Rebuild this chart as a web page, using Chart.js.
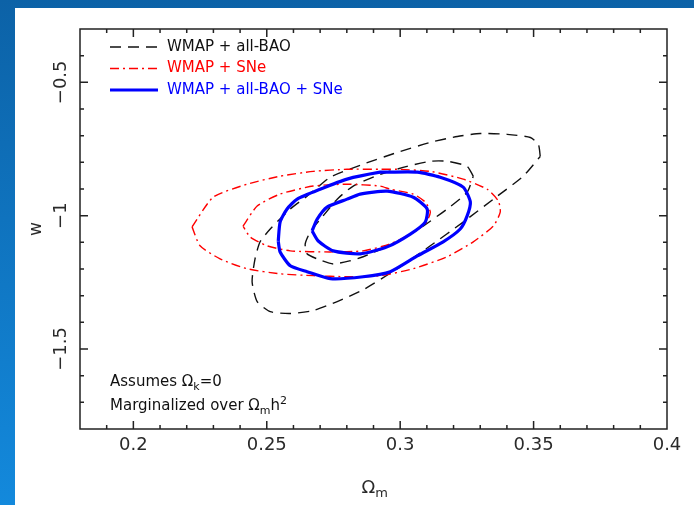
<!DOCTYPE html>
<html>
<head>
<meta charset="utf-8">
<script src="https://cdn.jsdelivr.net/npm/chart.js@4"></script>
<style>
  html, body { margin: 0; padding: 0; }
  body { width: 694px; height: 505px; overflow: hidden; position: relative;
         background: linear-gradient(to bottom, #0c62a7, #1389dc); }
  #panel { position: absolute; left: 15px; top: 8px; right: 0; bottom: 0; background: #fff; }
  #wrap { position: absolute; left: 0; top: 0; width: 694px; height: 505px; }
</style>
</head>
<body>
<div id="panel"></div>
<div id="wrap"><canvas id="c" width="694" height="505"></canvas></div>
<script>
// contours: Omega_m (x) and w (y)
const baoOuterOm = [0.3525, 0.3518, 0.3488, 0.3401, 0.330, 0.3214, 0.3113, 0.2989, 0.2861, 0.2738, 0.2651, 0.2588, 0.2513, 0.2475, 0.2456, 0.2445, 0.2464, 0.2513, 0.2588, 0.2674, 0.2764, 0.2861, 0.2989, 0.3113, 0.3236, 0.3364, 0.3461];
const baoOuterW = [-0.778, -0.733, -0.707, -0.695, -0.692, -0.703, -0.725, -0.763, -0.807, -0.856, -0.927, -0.975, -1.050, -1.098, -1.162, -1.248, -1.322, -1.360, -1.367, -1.356, -1.322, -1.278, -1.199, -1.113, -1.024, -0.927, -0.852];
const baoInnerOm = [0.3274, 0.3251, 0.3176, 0.3113, 0.3026, 0.2925, 0.2824, 0.2764, 0.2711, 0.2663, 0.2644, 0.2651, 0.2689, 0.2749, 0.2813, 0.2861, 0.2989, 0.3086, 0.3176, 0.3251];
const baoInnerW = [-0.852, -0.815, -0.796, -0.796, -0.815, -0.845, -0.889, -0.938, -1.001, -1.061, -1.106, -1.143, -1.162, -1.181, -1.169, -1.154, -1.098, -1.039, -0.975, -0.912];

const sneOuterOm = [0.222, 0.2299, 0.2426, 0.255, 0.2674, 0.2801, 0.2925, 0.2989, 0.3113, 0.3236, 0.3326, 0.3368, 0.3375, 0.3349, 0.3274, 0.3176, 0.3049, 0.2925, 0.2801, 0.2674, 0.255, 0.2426, 0.2325, 0.225];
const sneOuterW = [-1.042, -0.931, -0.882, -0.852, -0.834, -0.826, -0.826, -0.826, -0.834, -0.863, -0.901, -0.945, -0.987, -1.039, -1.098, -1.154, -1.199, -1.225, -1.229, -1.225, -1.218, -1.199, -1.162, -1.113];
const sneInnerOm = [0.2411, 0.2464, 0.255, 0.2674, 0.2801, 0.2925, 0.2963, 0.3049, 0.3094, 0.3113, 0.3094, 0.3038, 0.2963, 0.2861, 0.2738, 0.2588, 0.2501, 0.2438];
const sneInnerW = [-1.039, -0.964, -0.919, -0.889, -0.882, -0.889, -0.901, -0.919, -0.949, -0.987, -1.031, -1.069, -1.106, -1.132, -1.136, -1.132, -1.113, -1.080];

const allOuterOm = [0.2543, 0.255, 0.2576, 0.2614, 0.270, 0.2801, 0.2925, 0.2951, 0.3064, 0.315, 0.3236, 0.3263, 0.3251, 0.3225, 0.3161, 0.3064, 0.2963, 0.2861, 0.2738, 0.2651, 0.2588, 0.255];
const allOuterW = [-1.095, -1.024, -0.975, -0.938, -0.901, -0.863, -0.837, -0.837, -0.837, -0.856, -0.893, -0.949, -1.001, -1.050, -1.098, -1.151, -1.210, -1.229, -1.236, -1.210, -1.188, -1.136];
const allInnerOm = [0.267, 0.2689, 0.2726, 0.2801, 0.285, 0.2951, 0.3049, 0.3101, 0.3094, 0.3038, 0.2951, 0.285, 0.2749, 0.2693];
const allInnerW = [-1.057, -1.013, -0.968, -0.938, -0.919, -0.908, -0.931, -0.975, -1.024, -1.069, -1.117, -1.143, -1.132, -1.095];

const xTicks = [0.2, 0.25, 0.3, 0.35, 0.4];
const yTicks = [-1.5, -1, -0.5];
const legendLabels = ["WMAP + all-BAO", "WMAP + SNe", "WMAP + all-BAO + SNe"];

const styles = [
  { color: "#111111", width: 1.4, dash: [11, 7] },
  { color: "#ff0000", width: 1.4, dash: [9, 4, 2, 4] },
  { color: "#0000ff", width: 3.2, dash: [] },
];

function loop(xs, ys) {
  const pts = xs.map((x, i) => ({ x: x, y: ys[i] }));
  pts.push(pts[0]);
  return pts;
}

function contour(label, xs, ys, st, order) {
  return {
    label: label,
    data: loop(xs, ys),
    showLine: true,
    borderColor: st.color,
    borderWidth: st.width,
    borderDash: st.dash,
    pointRadius: 0,
    tension: 0.2,
    fill: false,
    order: order,
  };
}

const F = '"DejaVu Sans", sans-serif';

// text with sub/superscripts: parts = [[text, shift]] shift 0 normal, 1 sub, -1 sup
function rich(ctx, parts, x, y, size) {
  let cx = x;
  parts.forEach(([t, s]) => {
    const sz = s === 0 ? size : Math.round(size * 0.7);
    ctx.font = sz + "px " + F;
    ctx.fillText(t, cx, y + (s === 1 ? 4 : s === -1 ? -6 : 0));
    cx += ctx.measureText(t).width;
  });
  return cx - x;
}

const frame = {
  id: "frame",
  afterDraw(chart) {
    const ctx = chart.ctx;
    const a = chart.chartArea;
    const sx = chart.scales.x;
    const sy = chart.scales.y;
    ctx.save();
    ctx.strokeStyle = "#222";
    ctx.lineWidth = 1.5;
    ctx.setLineDash([]);
    ctx.strokeRect(a.left, a.top, a.right - a.left, a.bottom - a.top);

    // inside ticks on all sides
    ctx.beginPath();
    for (let i = 19; i <= 39; i++) {
      const px = sx.getPixelForValue(i / 100);
      const len = i % 5 === 0 ? 8 : 4;
      ctx.moveTo(px, a.bottom); ctx.lineTo(px, a.bottom - len);
      ctx.moveTo(px, a.top); ctx.lineTo(px, a.top + len);
    }
    for (let i = -17; i <= -4; i++) {
      const py = sy.getPixelForValue(i / 10);
      const len = i % 5 === 0 ? 8 : 4;
      ctx.moveTo(a.left, py); ctx.lineTo(a.left + len, py);
      ctx.moveTo(a.right, py); ctx.lineTo(a.right - len, py);
    }
    ctx.stroke();

    // tick labels
    ctx.fillStyle = "#2a2a2a";
    ctx.font = "18px " + F;
    ctx.textAlign = "center";
    ctx.textBaseline = "middle";
    xTicks.forEach(v => {
      ctx.fillText(String(v), sx.getPixelForValue(v), a.bottom + 16);
    });
    yTicks.forEach(v => {
      ctx.save();
      ctx.translate(a.left - 19, sy.getPixelForValue(v));
      ctx.rotate(-Math.PI / 2);
      ctx.fillText("\u2212" + Math.abs(v), 0, 0);
      ctx.restore();
    });

    // axis titles
    ctx.save();
    ctx.translate(a.left - 43, (a.top + a.bottom) / 2);
    ctx.rotate(-Math.PI / 2);
    ctx.font = "17px " + F;
    ctx.fillText("w", 0, 0);
    ctx.restore();

    ctx.textAlign = "left";
    ctx.textBaseline = "alphabetic";
    const cx = (a.left + a.right) / 2;
    rich(ctx, [["\u03A9", 0], ["m", 1]], cx - 12, a.bottom + 64, 18);

    // legend
    const lx = a.left + 30;
    legendLabels.forEach((lab, i) => {
      const st = styles[i];
      const y = a.top + 18 + i * 21.5;
      ctx.strokeStyle = st.color;
      ctx.lineWidth = st.width;
      ctx.setLineDash(st.dash);
      ctx.beginPath();
      ctx.moveTo(lx, y); ctx.lineTo(lx + 48, y);
      ctx.stroke();
      ctx.setLineDash([]);
      ctx.fillStyle = st.color === "#111111" ? "#111" : st.color;
      ctx.font = "15px " + F;
      ctx.textBaseline = "middle";
      ctx.fillText(lab, lx + 57, y);
    });

    // notes
    ctx.fillStyle = "#111";
    ctx.textBaseline = "alphabetic";
    rich(ctx, [["Assumes \u03A9", 0], ["k", 1], ["=0", 0]], a.left + 30, a.bottom - 43, 15);
    rich(ctx, [["Marginalized over \u03A9", 0], ["m", 1], ["h", 0], ["2", -1]], a.left + 30, a.bottom - 19, 15);
    ctx.restore();
  },
};

new Chart(document.getElementById("c"), {
  type: "scatter",
  data: {
    datasets: [
      contour("WMAP + all-BAO", baoOuterOm, baoOuterW, styles[0], 3),
      contour("WMAP + all-BAO", baoInnerOm, baoInnerW, styles[0], 3),
      contour("WMAP + SNe", sneOuterOm, sneOuterW, styles[1], 2),
      contour("WMAP + SNe", sneInnerOm, sneInnerW, styles[1], 2),
      contour("WMAP + all-BAO + SNe", allOuterOm, allOuterW, styles[2], 1),
      contour("WMAP + all-BAO + SNe", allInnerOm, allInnerW, styles[2], 1),
    ],
  },
  options: {
    responsive: false,
    animation: false,
    layout: { padding: { left: 80, top: 29, right: 27, bottom: 76 } },
    plugins: { legend: { display: false }, tooltip: { enabled: false } },
    scales: {
      x: { type: "linear", min: 0.18, max: 0.4, display: false },
      y: { type: "linear", min: -1.8, max: -0.3, display: false },
    },
  },
  plugins: [frame],
});
</script>
</body>
</html>
